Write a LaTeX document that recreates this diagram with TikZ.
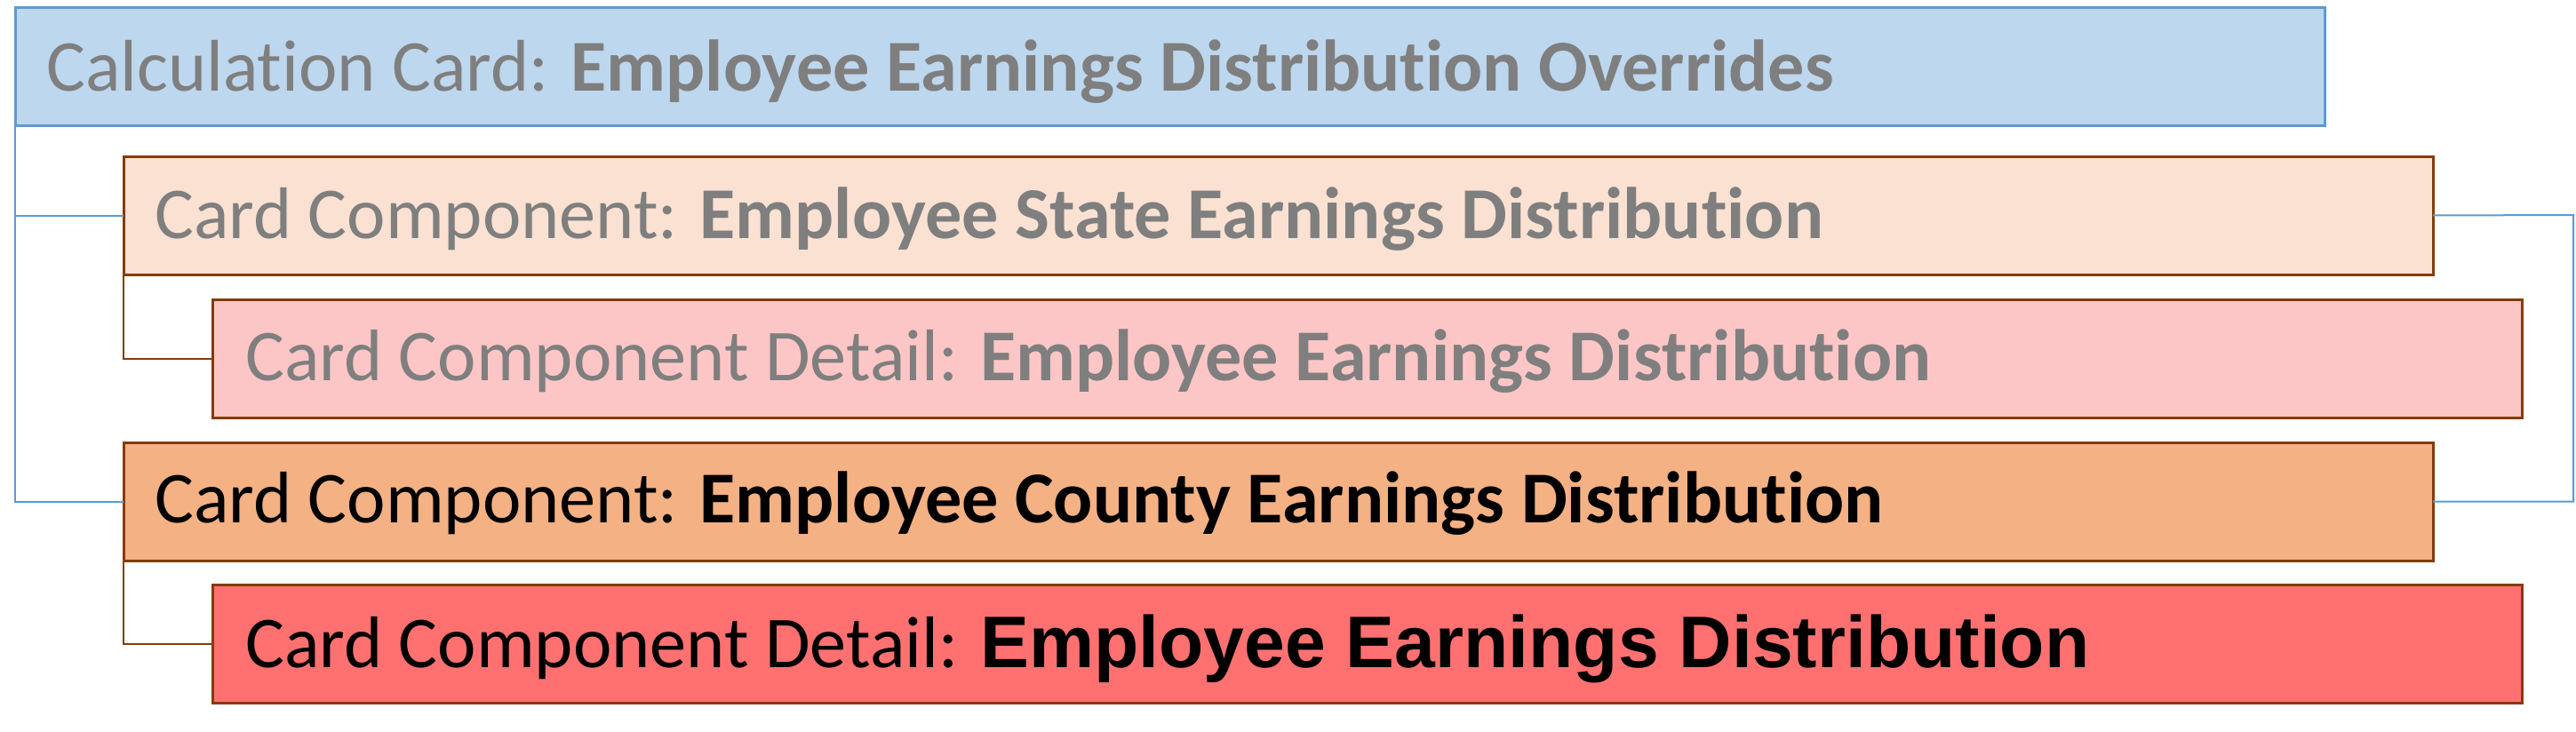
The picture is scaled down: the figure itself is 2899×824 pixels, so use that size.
\documentclass[tikz,border=0pt]{standalone}
\usepackage{fontspec}
\setmainfont{Carlito}[Ligatures=NoCommon]
\newfontfamily\arialfont{Liberation Sans}
\definecolor{bluefill}{HTML}{BDD7EE}
\definecolor{blueline}{HTML}{5B9BD5}
\definecolor{peach}{HTML}{FAE1D2}
\definecolor{pinkfill}{HTML}{FDC6C6}
\definecolor{orangefill}{HTML}{F4B183}
\definecolor{redfill}{HTML}{FF7171}
\definecolor{brownline}{HTML}{843C0C}
\definecolor{graytext}{HTML}{7F7F7F}
\tikzset{
  cardbox/.style={rectangle, anchor=north west, minimum width=2599pt, minimum height=133pt, inner sep=0pt, outer sep=0pt, line width=3pt},
  bluebox/.style={cardbox, draw=blueline, fill=bluefill},
  brownbox/.style={cardbox, draw=brownline},
  label/.style={anchor=base west, inner sep=0pt, font=\fontsize{82.3}{90}\selectfont},
  blueconn/.style={draw=blueline, line width=2pt},
  brownconn/.style={draw=brownline, line width=2pt},
}
\begin{document}
\begin{tikzpicture}[x=1pt,y=-1pt]
\useasboundingbox (0,0) rectangle (2899,824);
\node[bluebox] (b1) at (17,9) {};
\node[brownbox, fill=peach] (b2) at (139,176) {};
\node[brownbox, fill=pinkfill] (b3) at (239,337) {};
\node[brownbox, fill=orangefill] (b4) at (139,498) {};
\node[brownbox, fill=redfill] (b5) at (239,658) {};
\coordinate (r) at (2896,242);
\draw[blueconn] (b1.south west) |- (b2.west);
\draw[blueconn] (b1.south west) |- (b4.west);
\draw[blueconn] (b2.east) -- (r) |- (b4.east);
\draw[brownconn] (b2.south west) |- (b3.west);
\draw[brownconn] (b4.south west) |- (b5.west);
\node[label, text=graytext] (t1) at (52,102.5) {Calculation Card: \textbf{Employee Earnings Distribution Overrides}};
\node[label, text=graytext] (t2) at (174,268) {Card Component: \textbf{Employee State Earnings Distribution}};
\node[label, text=graytext] (t3) at (276,428) {Card Component Detail: \textbf{Employee Earnings Distribution}};
\node[label, text=black] (t4) at (174,588.5) {Card Component: \textbf{Employee County Earnings Distribution}};
\node[label, text=black] (t5) at (276,751) {Card Component Detail: {\arialfont\bfseries\fontsize{82.3}{90}\selectfont Employee Earnings Distribution}};
\end{tikzpicture}
\end{document}
